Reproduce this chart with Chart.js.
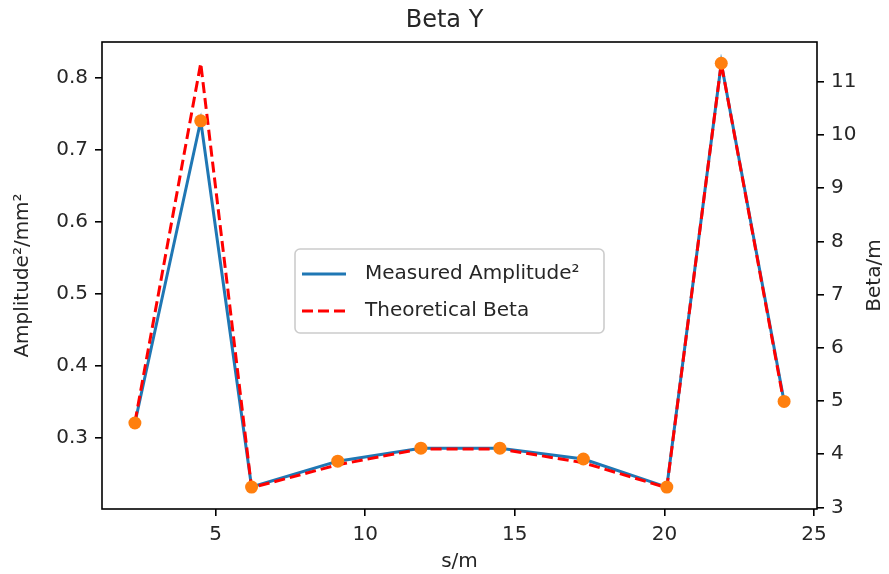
<!DOCTYPE html>
<html>
<head>
<meta charset="utf-8">
<script src="https://cdn.jsdelivr.net/npm/chart.js@4/dist/chart.umd.min.js"></script>
<style>
  html, body { margin: 0; padding: 0; background: #fff; }
  #wrap { width: 889px; height: 574px; }
</style>
</head>
<body>
<div id="wrap"><canvas id="c" width="889" height="574"></canvas></div>
<script>
// ---- data ----
const positions = [2.3, 4.5, 6.2, 9.08, 11.86, 14.5, 17.29, 20.08, 21.9, 24.0];        // s/m
const measuredAmp2 = [0.32, 0.74, 0.231, 0.267, 0.285, 0.285, 0.27, 0.231, 0.82, 0.35]; // Amplitude^2 / mm^2
const theoreticalBeta = [4.6, 11.35, 3.37, 3.8, 4.1, 4.1, 3.84, 3.37, 11.35, 4.95];   // Beta / m
const xTicks = [5, 10, 15, 20, 25];
const leftTicks = [0.3, 0.4, 0.5, 0.6, 0.7, 0.8];
const rightTicks = [3, 4, 5, 6, 7, 8, 9, 10, 11];
const titleText = 'Beta Y';
const xLabel = 's/m';
const leftLabel = 'Amplitude\u00B2/mm\u00B2';
const rightLabel = 'Beta/m';
const legendLabels = ['Measured Amplitude\u00B2', 'Theoretical Beta'];

const FONT = "'DejaVu Sans', sans-serif";
const TEXT = '#262626';
const BLUE = '#1f77b4', ORANGE = '#ff7f0e', RED = '#ff0000';

const pts = (xs, ys) => xs.map((x, i) => ({x, y: ys[i]}));

const framePlugin = {
  id: 'frame',
  beforeDraw(chart) {
    const ctx = chart.ctx;
    ctx.save();
    ctx.fillStyle = '#fff';
    ctx.fillRect(0, 0, chart.width, chart.height);
    ctx.restore();
  },
  afterDraw(chart) {
    const {ctx, chartArea: a} = chart;
    ctx.save();
    // frame
    ctx.strokeStyle = '#000';
    ctx.lineWidth = 1.6;
    ctx.strokeRect(a.left, a.top, a.right - a.left, a.bottom - a.top);
    // right axis title (reads bottom-to-top like the reference)
    ctx.fillStyle = TEXT;
    ctx.font = '20px ' + FONT;
    ctx.textAlign = 'center';
    ctx.textBaseline = 'middle';
    ctx.translate(875, (a.top + a.bottom) / 2);
    ctx.rotate(-Math.PI / 2);
    ctx.fillText(rightLabel, 0, 0);
    ctx.restore();

    // legend box
    const bx = 295, by = 249, bw = 309, bh = 84, r = 5;
    ctx.save();
    ctx.beginPath();
    ctx.moveTo(bx + r, by);
    ctx.arcTo(bx + bw, by, bx + bw, by + bh, r);
    ctx.arcTo(bx + bw, by + bh, bx, by + bh, r);
    ctx.arcTo(bx, by + bh, bx, by, r);
    ctx.arcTo(bx, by, bx + bw, by, r);
    ctx.closePath();
    ctx.fillStyle = 'rgba(255,255,255,0.8)';
    ctx.fill();
    ctx.strokeStyle = '#cccccc';
    ctx.lineWidth = 1.6;
    ctx.stroke();

    const rows = [
      {y: 274, color: BLUE, dash: []},
      {y: 311, color: RED, dash: [11, 5]}
    ];
    rows.forEach((row, i) => {
      ctx.beginPath();
      ctx.setLineDash(row.dash);
      ctx.strokeStyle = row.color;
      ctx.lineWidth = 3;
      ctx.moveTo(302, row.y);
      ctx.lineTo(346, row.y);
      ctx.stroke();
      ctx.setLineDash([]);
      ctx.fillStyle = TEXT;
      ctx.font = '20px ' + FONT;
      ctx.textAlign = 'left';
      ctx.textBaseline = 'middle';
      ctx.fillText(legendLabels[i], 365, row.y);
    });
    ctx.restore();
  }
};

const tickCommon = {
  color: TEXT,
  font: {family: FONT, size: 20},
  padding: 7,
  includeBounds: false
};
const gridCommon = {
  display: true,
  drawOnChartArea: false,
  drawTicks: true,
  tickLength: 7,
  color: '#000',
  lineWidth: 1.6
};

new Chart(document.getElementById('c'), {
  type: 'scatter',
  data: {
    datasets: [
      {
        label: 'points',
        data: pts(positions, measuredAmp2),
        yAxisID: 'y',
        showLine: false,
        pointRadius: 6.5,
        pointBackgroundColor: ORANGE,
        pointBorderColor: ORANGE,
        pointBorderWidth: 0,
        order: 0
      },
      {
        label: legendLabels[1],
        data: pts(positions, theoreticalBeta),
        yAxisID: 'y2',
        showLine: true,
        borderColor: RED,
        borderWidth: 3,
        borderDash: [11, 5],
        pointRadius: 0,
        fill: false,
        order: 1
      },
      {
        label: legendLabels[0],
        data: pts(positions, measuredAmp2),
        yAxisID: 'y',
        showLine: true,
        borderColor: BLUE,
        borderWidth: 3,
        pointRadius: 0,
        fill: false,
        order: 2
      }
    ]
  },
  options: {
    responsive: false,
    animation: false,
    devicePixelRatio: 1,
    layout: {padding: 0},
    plugins: {
      legend: {display: false},
      tooltip: {enabled: false},
      title: {
        display: true,
        text: titleText,
        color: TEXT,
        font: {family: FONT, size: 24, weight: 'normal', lineHeight: 1.2},
        padding: {top: 6.6, bottom: 6.6}
      }
    },
    scales: {
      x: {
        type: 'linear',
        position: 'bottom',
        min: 1.2,
        max: 25.1,
        border: {display: false},
        grid: gridCommon,
        ticks: Object.assign({}, tickCommon, {
          stepSize: 5,
          callback: v => xTicks.includes(v) ? String(v) : null
        }),
        title: {display: true, text: xLabel, color: TEXT, font: {family: FONT, size: 20}, padding: {top: 0, bottom: 0}},
        afterFit: s => { s.height = 65; }
      },
      y: {
        type: 'linear',
        position: 'left',
        min: 0.2005,
        max: 0.8495,
        border: {display: false},
        grid: gridCommon,
        ticks: Object.assign({}, tickCommon, {
          stepSize: 0.1,
          callback: v => {
            const t = leftTicks.find(k => Math.abs(k - v) < 1e-6);
            return t === undefined ? null : t.toFixed(1);
          }
        }),
        title: {display: true, text: leftLabel, color: TEXT, font: {family: FONT, size: 20}, padding: {top: 11, bottom: 0}},
        afterFit: s => { s.width = 102; }
      },
      y2: {
        type: 'linear',
        position: 'right',
        min: 2.97,
        max: 11.75,
        border: {display: false},
        grid: gridCommon,
        ticks: Object.assign({}, tickCommon, {
          stepSize: 1,
          callback: v => rightTicks.includes(v) ? String(v) : null
        }),
        title: {display: false},
        afterFit: s => { s.width = 72; }
      }
    }
  },
  plugins: [framePlugin]
});
</script>
</body>
</html>
